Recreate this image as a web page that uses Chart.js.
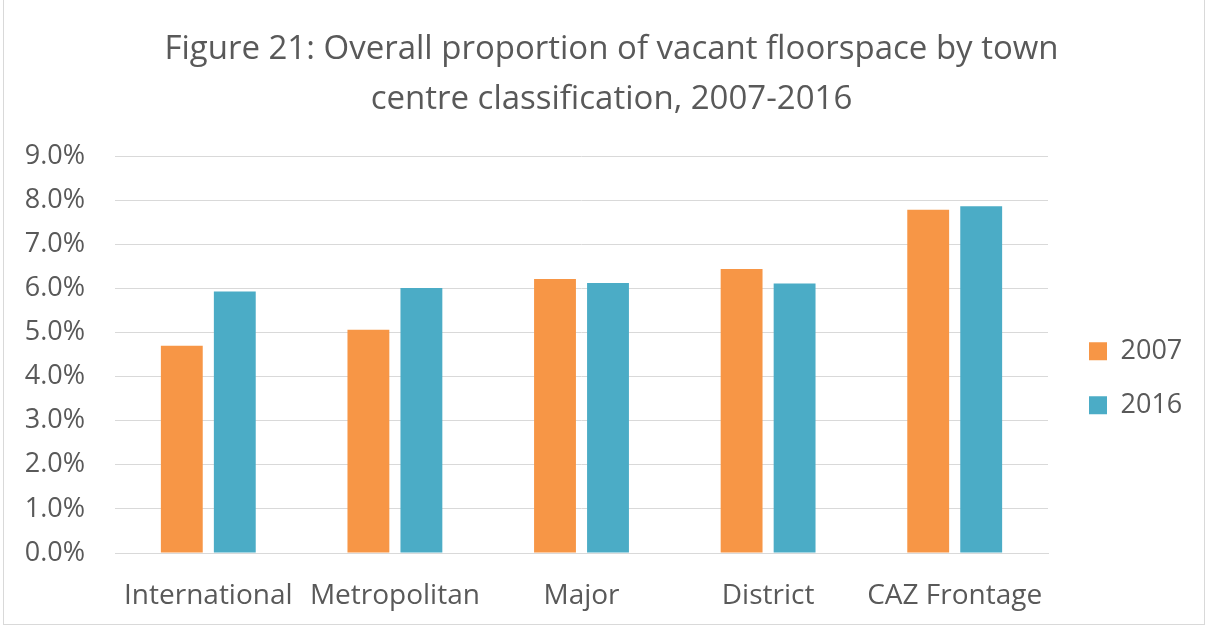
<!DOCTYPE html>
<html>
<head>
<meta charset="utf-8">
<script src="https://cdn.jsdelivr.net/npm/chart.js@4"></script>
<style>
  body { margin: 0; background: #fff; }
  #wrap { position: absolute; left: 3px; top: -1px; width: 1202px; height: 626px; border: 1px solid #d9d9d9; box-sizing: border-box; }
  #chart { position: absolute; left: 0; top: 0; }
</style>
</head>
<body>
<div id="wrap"></div>
<canvas id="chart" width="1208" height="628"></canvas>
<script>
const categories = ['International', 'Metropolitan', 'Major', 'District', 'CAZ Frontage'];
const values2007 = [4.70, 5.06, 6.21, 6.44, 7.78];
const values2016 = [5.93, 6.01, 6.12, 6.11, 7.86];
const yTicks = [0, 1, 2, 3, 4, 5, 6, 7, 8, 9];

const textColor = '#595959';
const fontFamily = '"Open Sans", sans-serif';

// nudge the legend a bit away from the plot area
const legendShift = {
  id: 'legendShift',
  afterLayout(chart) {
    chart.legend.left += 14;
    chart.legend.right += 14;
  },
};

const ctx = document.getElementById('chart').getContext('2d');

new Chart(ctx, {
  type: 'bar',
  data: {
    labels: categories,
    datasets: [
      {
        label: '2007',
        data: values2007,
        backgroundColor: '#F79646',
        barPercentage: 0.79,
        categoryPercentage: 0.568,
      },
      {
        label: '2016',
        data: values2016,
        backgroundColor: '#4BACC6',
        barPercentage: 0.79,
        categoryPercentage: 0.568,
      },
    ],
  },
  plugins: [legendShift],
  options: {
    responsive: false,
    animation: false,
    layout: {
      padding: { left: 22, right: 7, top: 25, bottom: 15 },
    },
    plugins: {
      title: {
        display: true,
        text: ['Figure 21: Overall proportion of vacant floorspace by town', 'centre classification, 2007-2016'],
        color: textColor,
        font: { family: fontFamily, size: 33, weight: 'normal', lineHeight: 1.5 },
        padding: { top: 0, bottom: 32 },
      },
      legend: {
        position: 'right',
        // blank legend title only pushes the two items down
        title: { display: true, text: ' ', padding: { top: 104, bottom: 0 } },
        labels: {
          color: textColor,
          font: { family: fontFamily, size: 27 },
          boxWidth: 18,
          boxHeight: 18,
          padding: 27,
        },
      },
      tooltip: { enabled: false },
    },
    scales: {
      x: {
        grid: { display: false },
        border: { color: '#d9d9d9', width: 1 },
        ticks: {
          color: textColor,
          font: { family: fontFamily, size: 28 },
          padding: 18,
        },
        afterFit: (scale) => {
          // keep plot area clear of the legend like the original
          scale.paddingLeft = 0;
          scale.paddingRight = 160;
          scale.height = 60;
        },
      },
      y: {
        min: 0,
        max: 9,
        afterBuildTicks: (axis) => {
          axis.ticks = yTicks.map((v) => ({ value: v }));
        },
        afterFit: (scale) => {
          scale.width = 93;
        },
        grid: { color: '#d9d9d9', lineWidth: 1, drawTicks: false },
        border: { display: false },
        ticks: {
          color: textColor,
          font: { family: fontFamily, size: 27 },
          padding: 30,
          callback: (v) => v.toFixed(1) + '%',
        },
      },
    },
  },
});
</script>
</body>
</html>
